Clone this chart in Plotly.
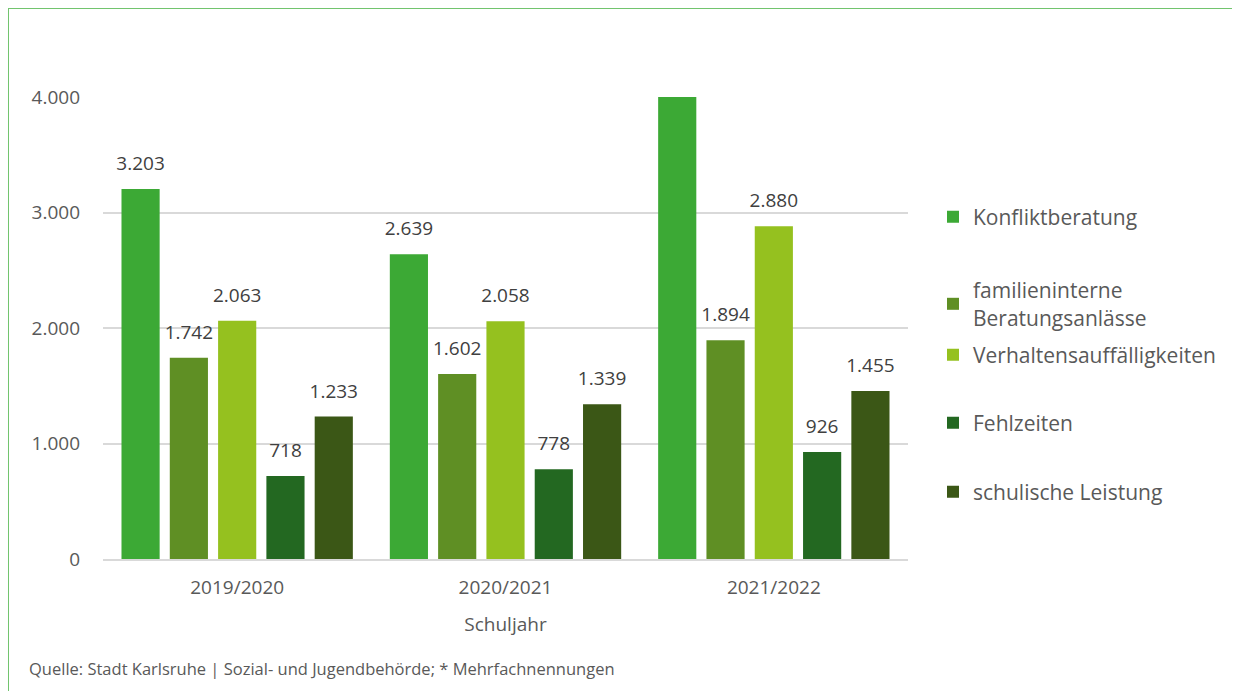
import plotly.graph_objects as go

years = ["2019/2020", "2020/2021", "2021/2022"]
series_names = ["Konfliktberatung", "familieninterne<br>Beratungsanlässe",
                "Verhaltensauffälligkeiten", "Fehlzeiten", "schulische Leistung"]
konflikt = [3203, 2639, 4001]
familien = [1742, 1602, 1894]
verhalten = [2063, 2058, 2880]
fehlzeiten = [718, 778, 926]
leistung = [1233, 1339, 1455]
values = [konflikt, familien, verhalten, fehlzeiten, leistung]
colors = ["#3CA935", "#5F8F24", "#95C11F", "#236821", "#3B5716"]
y_ticks = [0, 1000, 2000, 3000, 4000]

# page offset (body margin) is 8px
OFF = 8
W, H = 1240 - OFF, 691 - OFF
ML, MR, MT, MB = 103 - OFF, 332, 97 - OFF, 132
PW, PH = W - ML - MR, H - MT - MB
FONT = "Open Sans"
TXT = "#595959"

def px_x(px):
    return (px - OFF - ML) / PW

def px_y(py):
    return (H - MB - (py - OFF)) / PH

legend_y_px = [217, 304, 355, 423, 492]

fig = go.Figure()
for i, (name, vals, col) in enumerate(zip(series_names, values, colors)):
    lg = "legend" if i == 0 else f"legend{i+1}"
    fig.add_trace(go.Bar(
        x=years, y=vals, name=name, marker_color=col, marker_line_width=0,
        legend=lg, hoverinfo="x+y",
    ))
for i, (vals, col) in enumerate(zip(values, colors)):
    fig.add_trace(go.Scatter(
        x=years, y=vals, mode="markers+text", text=[f"{v:,}".replace(",", ".") for v in vals],
        textposition="top center", marker=dict(size=21, opacity=0, color=col),
        textfont=dict(family=FONT, size=19, color="#404040"),
        showlegend=False, hoverinfo="skip", cliponaxis=False,
    ))

layout_legends = {}
for i in range(5):
    key = "legend" if i == 0 else f"legend{i+1}"
    layout_legends[key] = dict(
        x=px_x(933), y=px_y(legend_y_px[i]), xref="paper", yref="paper",
        xanchor="left", yanchor="middle", bgcolor="rgba(0,0,0,0)",
        font=dict(family=FONT, size=21, color=TXT), itemclick=False,
    )

fig.update_layout(
    width=W, height=H, margin=dict(l=ML, r=MR, t=MT, b=MB),
    paper_bgcolor="white", plot_bgcolor="white",
    barmode="group", bargap=0.10, bargroupgap=0.21,
    scattermode="group", scattergap=0.10,
    separators=",.",
    showlegend=True,
    font=dict(family=FONT, color=TXT),
    xaxis=dict(
        tickfont=dict(family=FONT, size=19, color=TXT), showgrid=False,
        showline=True, linecolor="#d9d9d9", linewidth=2, ticks="",
        ticklabelstandoff=10,
        title=dict(text="Schuljahr", font=dict(family=FONT, size=19, color=TXT), standoff=19),
    ),
    yaxis=dict(
        range=[0, 4000], tickvals=y_ticks, tickformat=",d",
        tickfont=dict(family=FONT, size=19, color=TXT),
        showgrid=True, gridcolor="#d9d9d9", gridwidth=2, zeroline=False,
        ticklabelstandoff=22,
    ),
    shapes=[
        dict(type="line", xref="paper", yref="paper", x0=px_x(8), x1=px_x(1250),
             y0=px_y(8), y1=px_y(8), line=dict(color="#72C46E", width=2)),
        dict(type="line", xref="paper", yref="paper", x0=px_x(8), x1=px_x(8),
             y0=px_y(8), y1=px_y(700), line=dict(color="#72C46E", width=2)),
    ],
    annotations=[
        dict(text="Quelle: Stadt Karlsruhe | Sozial- und Jugendbehörde; * Mehrfachnennungen",
             xref="paper", yref="paper", x=px_x(27), y=px_y(668), xanchor="left",
             yanchor="middle", showarrow=False,
             font=dict(family=FONT, size=16.5, color=TXT)),
    ],
    **layout_legends,
)

fig.write_html("out.html")
